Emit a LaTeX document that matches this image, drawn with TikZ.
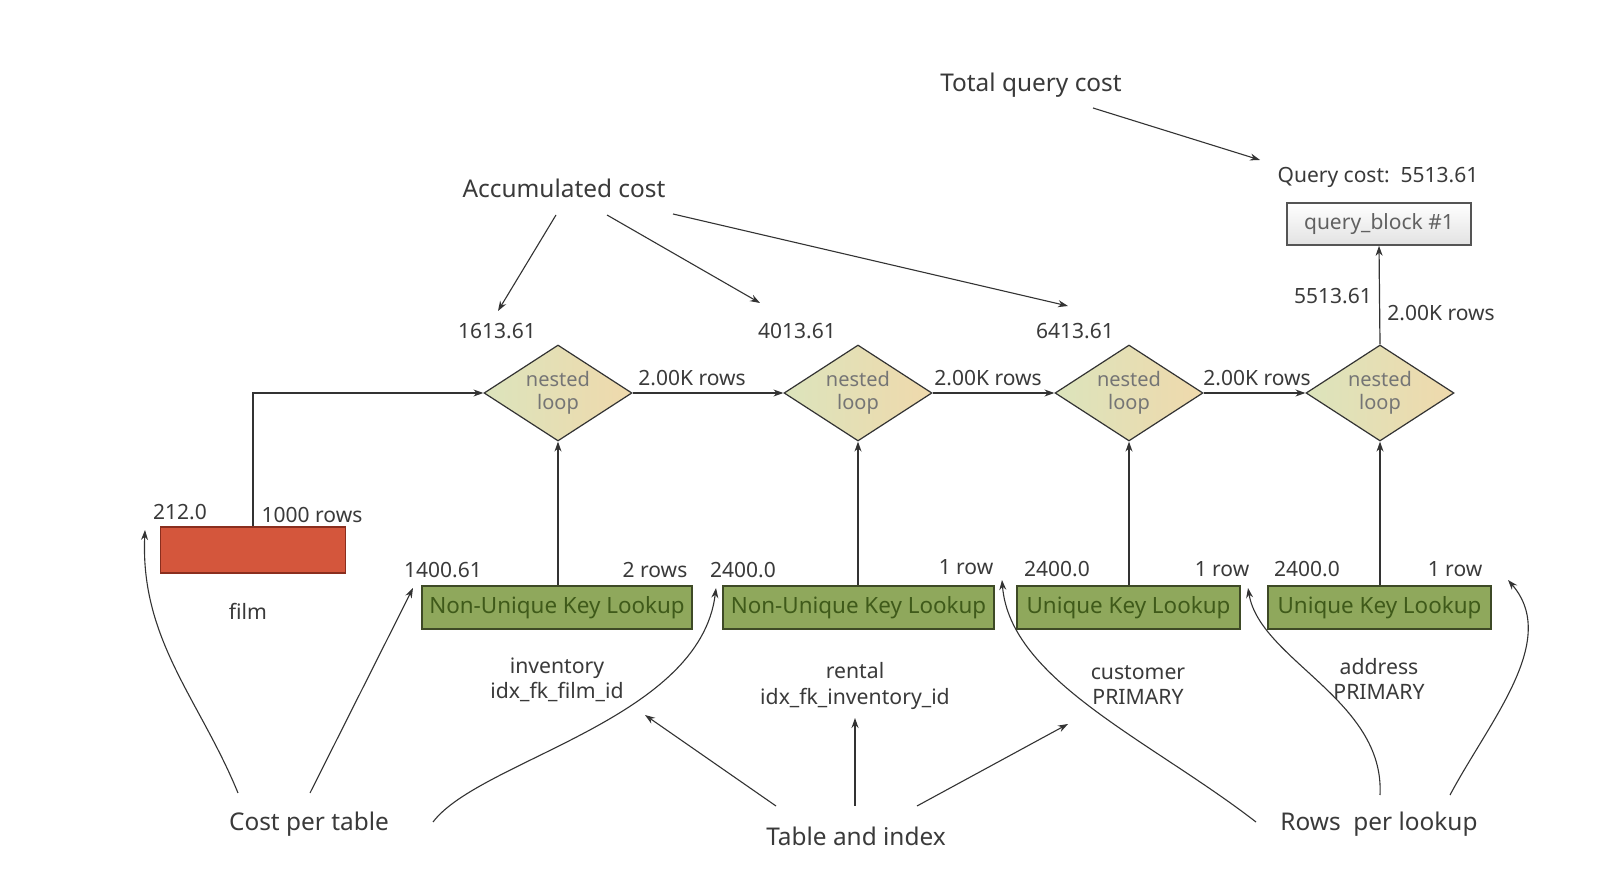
\documentclass[tikz,border=0pt]{standalone}
\usepackage{fontspec}
\setmainfont{Noto Sans}
\usetikzlibrary{shapes.geometric,arrows.meta}
\definecolor{txt}{HTML}{3A3A3A}
\definecolor{ln}{HTML}{333333}
\definecolor{grfill}{HTML}{8FA85C}
\definecolor{grdraw}{HTML}{3E4A26}
\definecolor{grtext}{HTML}{3F5A1A}
\definecolor{rdfill}{HTML}{D4563C}
\definecolor{rddraw}{HTML}{8A2E1E}
\definecolor{dmA}{HTML}{DCE4BC}
\definecolor{dmB}{HTML}{EFD9AC}
\definecolor{qbfill}{HTML}{E2E2E2}
\definecolor{qbdraw}{HTML}{555555}
\tikzset{
  flow/.style={draw=ln, line width=0.6pt, -{Stealth[length=5pt,width=3.5pt]}},
  ann/.style={draw=ln, line width=0.55pt, -{Stealth[length=5pt,width=3.5pt]}},
  annlabel/.style={text=txt, font=\fontsize{12.2}{14}\selectfont, inner sep=1pt},
  datalabel/.style={text=txt, font=\fontsize{10.5}{12.5}\selectfont, inner sep=1pt},
  tablabel/.style={text=txt, font=\fontsize{10.6}{12.8}\selectfont, inner sep=1pt, align=center},
  loopnode/.style={diamond, draw=ln, line width=0.6pt, left color=dmA, right color=dmB,
    minimum width=74pt, minimum height=48pt, inner sep=0pt, aspect=1.5,
    text=txt!70, font=\fontsize{10}{11.5}\selectfont, align=center},
  greenbox/.style={draw=grdraw, line width=0.8pt, fill=grfill, minimum height=21.5pt,
    inner sep=0pt, text=grtext, font=\fontsize{11.2}{13}\selectfont},
  redbox/.style={draw=rddraw, line width=0.6pt, fill=rdfill, minimum width=92.5pt,
    minimum height=23pt, inner sep=0pt},
  qbbox/.style={draw=qbdraw, line width=0.8pt, top color=white, bottom color=qbfill,
    minimum width=92pt, minimum height=21pt, inner sep=0pt, text=txt!80,
    font=\fontsize{10.5}{12}\selectfont},
}
\begin{document}
\begin{tikzpicture}[x=0.5pt,y=-0.5pt]
\useasboundingbox (0,0) rectangle (1602,886);
\fill[white] (0,0) rectangle (1602,886);

% --- top: total query cost
\node[annlabel] (tqc) at (1031,85) {Total query cost};
\node[datalabel] (qc) at (1378,177) {Query cost:\ \ 5513.61};
\node[qbbox] (qb) at (1379,224) {query\_block \#1};

% --- accumulated cost
\node[annlabel] (acc) at (564,188) {Accumulated cost};

% --- nested loops
\node[loopnode] (d1) at (558,393) {nested\\loop};
\node[loopnode] (d2) at (858,393) {nested\\loop};
\node[loopnode] (d3) at (1129,393) {nested\\loop};
\node[loopnode] (d4) at (1380,393) {nested\\loop};

\node[datalabel] (c1) at (497,331) {1613.61};
\node[datalabel] (c2) at (797,331) {4013.61};
\node[datalabel] (c3) at (1075,331) {6413.61};
\node[datalabel] (c4) at (1333,296) {5513.61};
\node[datalabel] (r4) at (1441,313) {2.00K rows};

\node[datalabel] (r12) at (692,378) {2.00K rows};
\node[datalabel] (r23) at (988,378) {2.00K rows};
\node[datalabel] (r34) at (1257,378) {2.00K rows};

% --- tables
\node[redbox] (film) at (253,550) {};
\node[greenbox, minimum width=135pt] (inv) at (557,607.5) {Non-Unique Key Lookup};
\node[greenbox, minimum width=135.5pt] (ren) at (858.5,607.5) {Non-Unique Key Lookup};
\node[greenbox, minimum width=111.5pt] (cus) at (1128.5,607.5) {Unique Key Lookup};
\node[greenbox, minimum width=111.5pt] (adr) at (1379.5,607.5) {Unique Key Lookup};

\node[datalabel] (tc0) at (180,512) {212.0};
\node[datalabel] (tr0) at (312,515) {1000 rows};
\node[datalabel] (tc1) at (443,570) {1400.61};
\node[datalabel] (tr1) at (655,570) {2 rows};
\node[datalabel] (tc2) at (743,570) {2400.0};
\node[datalabel] (tr2) at (966,567) {1 row};
\node[datalabel] (tc3) at (1057,569) {2400.0};
\node[datalabel] (tr3) at (1222,569) {1 row};
\node[datalabel] (tc4) at (1307,569) {2400.0};
\node[datalabel] (tr4) at (1455,569) {1 row};

\node[tablabel] (t0) at (248,611) {film};
\node[tablabel] (t1) at (557,680) {inventory\\idx\_fk\_film\_id};
\node[tablabel] (t2) at (855,686) {rental\\idx\_fk\_inventory\_id};
\node[tablabel] (t3) at (1138,685) {customer\\PRIMARY};
\node[tablabel] (t4) at (1379,679) {address\\PRIMARY};

% --- flow connectors
\draw[flow] (film.north) |- (d1.west);
\draw[flow] (d1.east) -- (d2.west);
\draw[flow] (d2.east) -- (d3.west);
\draw[flow] (d3.east) -- (d4.west);
\draw[flow] (inv.north -| d1.south) -- (d1.south);
\draw[flow] (ren.north -| d2.south) -- (d2.south);
\draw[flow] (cus.north -| d3.south) -- (d3.south);
\draw[flow] (adr.north -| d4.south) -- (d4.south);
\draw[flow] (d4.north) -- (qb.south);

% --- bottom annotation labels
\node[annlabel] (cpt) at (309,824) {Cost per table};
\node[annlabel] (tai) at (856,836) {Table and index};
\node[annlabel] (rpl) at (1379,824) {Rows\ \ per lookup};

% --- annotation arrows (top)
\coordinate (tqcs) at (1093,108);
\coordinate (qct) at (1260,160);
\draw[ann] (tqcs) -- (qct);

\coordinate (acs1) at (556,215);
\coordinate (acs2) at (607,215);
\coordinate (acs3) at (673,214);
\coordinate (act1) at (498,311);
\coordinate (act2) at (760,303);
\coordinate (act3) at (1068,306);
\draw[ann] (acs1) -- (act1);
\draw[ann] (acs2) -- (act2);
\draw[ann] (acs3) -- (act3);

% --- annotation arrows (bottom)
\coordinate (cs1) at (238,793);
\coordinate (cs2) at (310,793);
\coordinate (cs3) at (433,822);
\coordinate (ct1) at (145,530);
\coordinate (ct2) at (413,588);
\coordinate (ct3) at (716,588);
\draw[ann] (cs1) .. controls (200,700) and (140,640) .. (ct1);
\draw[ann] (cs2) -- (ct2);
\draw[ann] (cs3) .. controls (480,760) and (700,720) .. (ct3);

\coordinate (ts1) at (776,806);
\coordinate (ts2) at (855,806);
\coordinate (ts3) at (917,806);
\coordinate (tt1) at (645,715);
\coordinate (tt2) at (855,718);
\coordinate (tt3) at (1068,724);
\draw[ann] (ts1) -- (tt1);
\draw[ann] (ts2) -- (tt2);
\draw[ann] (ts3) -- (tt3);

\coordinate (rs1) at (1256,822);
\coordinate (rs2) at (1380,795);
\coordinate (rs3) at (1450,795);
\coordinate (rt1) at (1002,580);
\coordinate (rt2) at (1248,588);
\coordinate (rt3) at (1508,580);
\draw[ann] (rs1) .. controls (1150,740) and (1010,680) .. (rt1);
\draw[ann] (rs2) .. controls (1385,700) and (1260,660) .. (rt2);
\draw[ann] (rs3) .. controls (1490,720) and (1560,640) .. (rt3);
\end{tikzpicture}
\end{document}
